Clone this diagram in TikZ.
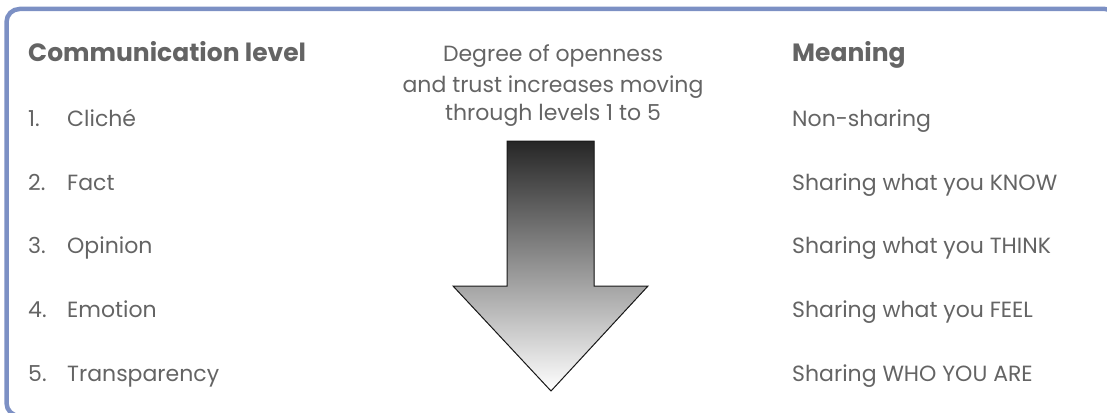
\documentclass[tikz,border=0pt]{standalone}
\usepackage{fontspec}
\setmainfont{Poppins}
\usepackage{xcolor}
\usetikzlibrary{positioning}
\definecolor{framecol}{HTML}{7C90C4}
\definecolor{txtgray}{HTML}{646464}

\begin{document}
\begin{tikzpicture}[x=1pt, y=-1pt,
    heading/.style={anchor=base west, inner sep=0pt, text=txtgray, font=\fontsize{25}{29}\selectfont\bfseries},
    item/.style={anchor=base west, inner sep=0pt, text=txtgray, font=\fontsize{22}{26}\selectfont},
    note/.style={anchor=base, inner sep=0pt, text=txtgray, font=\fontsize{22}{26}\selectfont}
]
    \useasboundingbox (0,0) rectangle (1107,412);

    % Frame, cut at the right and bottom
    \begin{scope}
        \clip (0,0) rectangle (1107,412);
        \draw[framecol, line width=4.5pt, rounded corners=13pt] (6.5,9) rectangle (1118,416);
    \end{scope}

    % Headings
    \node[heading] (comm) at (28,62) {Communication level};
    \node[heading] (mean) at (792,62) {Meaning};

    % Levels
    \node[item] (n1) at (28,126) {1.};
    \node[item] (l1) at (67,126) {Cliché};
    \node[item] (n2) at (28,190) {2.};
    \node[item] (l2) at (67,190) {Fact};
    \node[item] (n3) at (28,253) {3.};
    \node[item] (l3) at (67,253) {Opinion};
    \node[item] (n4) at (28,317) {4.};
    \node[item] (l4) at (67,317) {Emotion};
    \node[item] (n5) at (28,381) {5.};
    \node[item] (l5) at (67,381) {Transparency};

    % Meanings
    \node[item] (m1) at (792,126) {Non-sharing};
    \node[item] (m2) at (792,190) {Sharing what you KNOW};
    \node[item] (m3) at (792,253) {Sharing what you THINK};
    \node[item] (m4) at (792,317) {Sharing what you FEEL};
    \node[item] (m5) at (792,381) {Sharing WHO YOU ARE};

    % Openness note and arrow
    \node[note] (open1) at (553,61) {Degree of openness};
    \node[note] (open2) at (553,92) {and trust increases moving};
    \node[note] (open3) at (553,120) {through levels 1 to 5};
    \filldraw[draw=black!90, line width=1pt, top color=black!85, bottom color=white]
        (507,141) -- (594,141) -- (594,286) -- (648,286) -- (551,391)
        -- (453,286) -- (507,286) -- cycle;
\end{tikzpicture}
\end{document}
